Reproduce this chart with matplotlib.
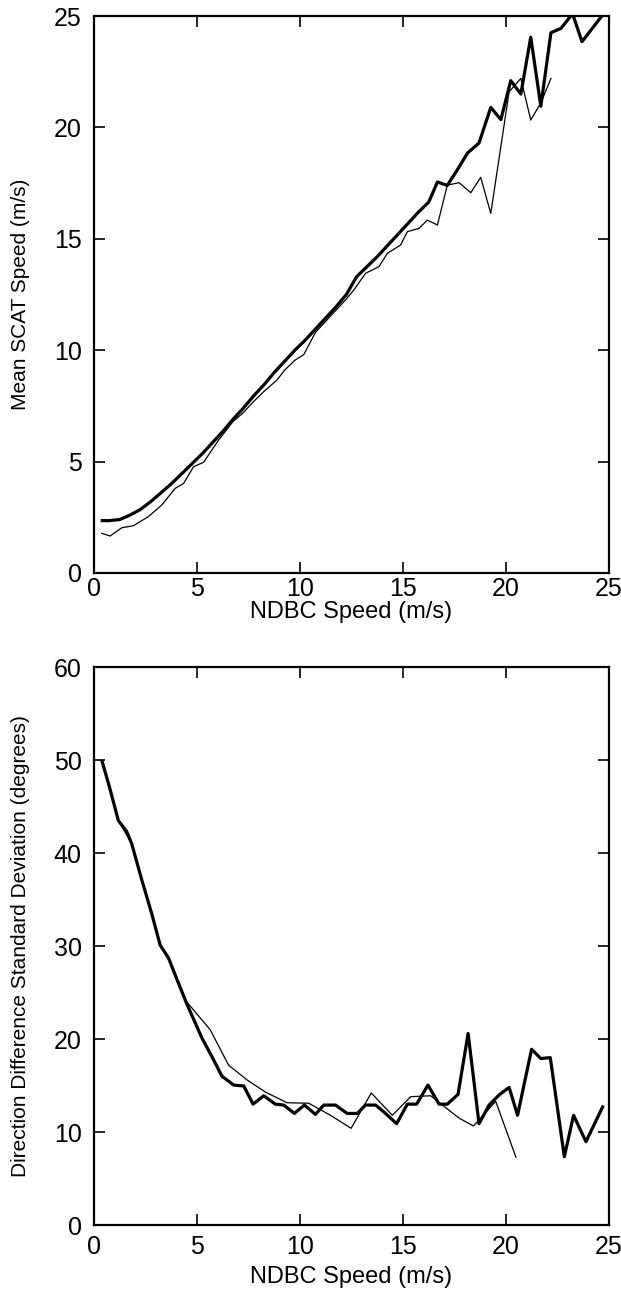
#!/usr/bin/env python3
"""Mean SCAT speed and direction-difference std vs NDBC buoy speed (2 panels)."""

import matplotlib as mpl
import matplotlib.pyplot as plt
from matplotlib.ticker import MultipleLocator

mpl.rcParams.update({
    "font.family": ["Liberation Sans", "DejaVu Sans"],
    "font.size": 15,
    "xtick.labelsize": 18, "ytick.labelsize": 18,
    "axes.linewidth": 1.6,
    "xtick.direction": "in", "ytick.direction": "in",
    "xtick.top": True, "ytick.right": True,
    "xtick.major.size": 8, "ytick.major.size": 8,
    "xtick.major.width": 1.2, "ytick.major.width": 1.2,
    "xtick.major.pad": 4, "ytick.major.pad": 9,
})

# ---- top panel: mean SCAT speed ----
spd_thick_top = [0.4, 0.75, 1.25, 1.75, 2.25, 2.75, 3.25, 3.75, 4.25, 4.75,
                 5.25, 5.75, 6.25, 6.75, 7.25, 7.75, 8.25, 8.75, 9.25, 9.75,
                 10.25, 10.75, 11.25, 11.75, 12.25, 12.75, 13.25, 13.75, 14.25,
                 14.75, 15.25, 15.75, 16.25, 16.67, 17.15, 17.64, 18.13, 18.69,
                 19.26, 19.75, 20.23, 20.72, 21.2, 21.69, 22.18, 22.67, 23.23,
                 23.69, 24.69]
scat_thick = [2.35, 2.35, 2.4, 2.6, 2.85, 3.2, 3.6, 4.0, 4.45, 4.9,
              5.35, 5.85, 6.35, 6.9, 7.4, 7.95, 8.45, 9.0, 9.5, 10.0,
              10.45, 10.95, 11.45, 11.95, 12.5, 13.3, 13.75, 14.2, 14.7,
              15.2, 15.7, 16.2, 16.65, 17.55, 17.4, 18.1, 18.85, 19.3,
              20.9, 20.35, 22.1, 21.5, 24.05, 20.95, 24.25, 24.45, 25.1,
              23.85, 25.05]

spd_thin_top = [0.37, 0.78, 1.35, 1.91, 2.64, 3.29, 3.94, 4.35, 4.83, 5.32,
                6.05, 6.75, 7.25, 7.75, 8.25, 8.88, 9.25, 9.75, 10.18, 10.75,
                11.25, 11.75, 12.25, 12.61, 13.18, 13.83, 14.24, 14.88, 15.21,
                15.78, 16.18, 16.67, 17.15, 17.72, 18.29, 18.77, 19.26, 20.15,
                20.72, 21.2, 21.69, 22.18]
scat_thin = [1.78, 1.66, 2.03, 2.12, 2.53, 3.05, 3.8, 4.02, 4.77, 4.97,
             5.97, 6.8, 7.2, 7.7, 8.15, 8.66, 9.1, 9.55, 9.8, 10.8,
             11.3, 11.8, 12.3, 12.7, 13.45, 13.75, 14.35, 14.72, 15.32,
             15.47, 15.84, 15.62, 17.41, 17.52, 17.07, 17.76, 16.14, 21.6,
             22.2, 20.33, 21.1, 22.2]

# ---- bottom panel: direction difference std ----
spd_thick_bot = [0.4, 0.75, 1.18, 1.59, 1.83, 2.32, 2.8, 3.21, 3.62, 4.1,
                 4.5, 5.24, 5.75, 6.21, 6.78, 7.27, 7.72, 8.24, 8.8, 9.21,
                 9.73, 10.21, 10.75, 11.15, 11.72, 12.29, 12.78, 13.18, 13.67,
                 14.15, 14.69, 15.21, 15.66, 16.21, 16.75, 17.15, 17.67, 18.16,
                 18.69, 19.18, 19.67, 20.15, 20.56, 21.24, 21.69, 22.15, 22.83,
                 23.28, 23.88, 24.69]
dir_thick = [49.8, 47.1, 43.5, 42.3, 41.0, 37.1, 33.5, 30.1, 28.7, 26.0,
             23.8, 20.1, 18.0, 16.0, 15.05, 14.95, 13.0, 13.9, 13.0, 12.9,
             12.0, 12.9, 11.9, 12.9, 12.9, 12.0, 12.0, 12.9, 12.9,
             12.0, 10.9, 13.0, 13.0, 15.05, 13.0, 13.0, 14.05, 20.6,
             10.9, 12.9, 14.0, 14.8, 11.8, 18.9, 17.9, 18.0, 7.35,
             11.8, 8.96, 12.7]

spd_thin_bot = [0.4, 1.18, 1.83, 2.32, 2.8, 3.21, 3.62, 4.5, 5.64, 6.53,
                7.43, 8.32, 9.37, 10.42, 11.48, 12.48, 13.46, 14.48, 15.37,
                16.34, 17.72, 18.42, 19.5, 20.48]
dir_thin = [49.8, 43.5, 41.0, 37.1, 33.5, 30.1, 28.7, 24.0, 21.0, 17.2,
            15.6, 14.3, 13.15, 13.1, 11.8, 10.4, 14.2, 11.8, 13.8,
            13.9, 11.5, 10.65, 13.3, 7.3]

fig = plt.figure(figsize=(6.21, 12.94), dpi=100)
ax1 = fig.add_axes([0.1514, 0.5572, 0.8293, 0.4304])
ax2 = fig.add_axes([0.1514, 0.0533, 0.8293, 0.4312])

ax1.plot(spd_thin_top, scat_thin, color="black", lw=0.9)
ax1.plot(spd_thick_top, scat_thick, color="black", lw=2.3)
ax1.set_xlim(0, 25); ax1.set_ylim(0, 25)
ax1.xaxis.set_major_locator(MultipleLocator(5))
ax1.yaxis.set_major_locator(MultipleLocator(5))
ax1.tick_params(axis="x", pad=3)
ax1.set_xlabel("NDBC Speed (m/s)", fontsize=17, labelpad=0)
ax1.set_ylabel("Mean SCAT Speed (m/s)", labelpad=17)

ax2.plot(spd_thin_bot, dir_thin, color="black", lw=0.9)
ax2.plot(spd_thick_bot, dir_thick, color="black", lw=2.3)
ax2.set_xlim(0, 25); ax2.set_ylim(0, 60)
ax2.xaxis.set_major_locator(MultipleLocator(5))
ax2.yaxis.set_major_locator(MultipleLocator(10))
ax2.tick_params(axis="x", pad=7)
ax2.set_xlabel("NDBC Speed (m/s)", fontsize=17, labelpad=5)
ax2.set_ylabel("Direction Difference Standard Deviation (degrees)",
               labelpad=17)

fig.savefig("out.png", dpi=100)
plt.close(fig)
